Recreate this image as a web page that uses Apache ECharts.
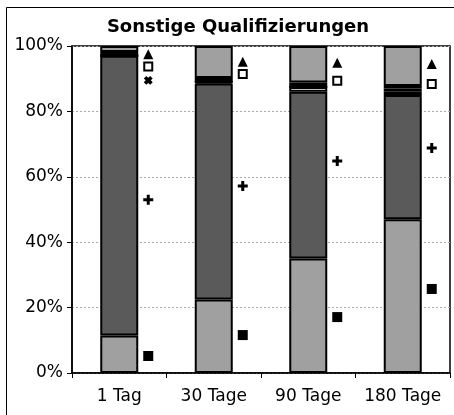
<!DOCTYPE html>
<html>
<head>
<meta charset="utf-8">
<script src="https://cdn.jsdelivr.net/npm/echarts@6/dist/echarts.min.js"></script>
<style>
  html, body { margin: 0; padding: 0; background: #fff; }
  #chart { width: 454px; height: 415px; }
</style>
</head>
<body>
<div id="chart"></div>
<script>
// Kategorien und Anteile (%) je Segment, von unten nach oben
var categories = ["1 Tag", "30 Tage", "90 Tage", "180 Tage"];
var segLight = [11.5, 22.5, 35, 47];
var segDark = [85.5, 66, 51, 38];
var segWhite1 = [0, 0.5, 1.5, 1];
var segWhite2 = [0, 0, 0, 1];
var segBlack = [1.2, 1.2, 1.3, 0.8];
var segTop = [1.8, 9.8, 11.2, 12.2];

// Marker rechts neben den Balken
var mSquare = [5.2, 11.6, 17.1, 25.7];
var mPlus = [53, 57.2, 64.8, 68.8];
var mCross = [89.5, null, null, null];
var mOpen = [93.7, 91.4, 89.4, 88.4];
var mTri = [97.5, 95.2, 94.9, 94.5];

var yTicks = [0, 20, 40, 60, 80, 100];

var plusPath = "path://M3.5,0H6.5V3.5H10V6.5H6.5V10H3.5V6.5H0V3.5H3.5Z";
var crossPath = "path://M3,0H7V3H10V7H7V10H3V7H0V3H3Z";
var font = "DejaVu Sans, Liberation Sans, Arial, sans-serif";

function barSeries(data, color) {
  return {
    type: "bar",
    stack: "total",
    barWidth: 38,
    data: data,
    itemStyle: { color: color, borderColor: "#000", borderWidth: 2 },
    emphasis: { disabled: true },
    z: 2,
  };
}

function markSeries(data, symbol, size, style, rotate) {
  style.opacity = 1;
  return {
    type: "scatter",
    data: data,
    symbol: symbol,
    symbolSize: size,
    symbolRotate: rotate || 0,
    symbolOffset: [29, 0],
    itemStyle: style,
    z: 5,
  };
}

var chart = echarts.init(document.getElementById("chart"));
var option = {
  animation: false,
  backgroundColor: "#fff",
  textStyle: { fontFamily: font },
  title: {
    text: "Sonstige Qualifizierungen",
    left: 233,
    top: 13,
    textAlign: "center",
    textStyle: { fontFamily: font, fontSize: 18, fontWeight: "bold", color: "#000" },
  },
  graphic: [
    {
      type: "rect",
      shape: { x: 6.5, y: 7.5, width: 460, height: 430 },
      style: { fill: null, stroke: "#000", lineWidth: 1 },
      silent: true,
    },
  ],
  grid: {
    left: 72,
    right: 4,
    top: 46,
    bottom: 42,
    show: true,
    borderColor: "#000",
    borderWidth: 1.5,
    backgroundColor: "#fff",
  },
  xAxis: {
    type: "category",
    data: categories,
    axisLine: { lineStyle: { color: "#000", width: 1.5 } },
    axisTick: { show: true, alignWithLabel: false, length: 5, lineStyle: { color: "#000" } },
    axisLabel: { color: "#000", fontSize: 17, margin: 15, interval: 0, fontFamily: font },
  },
  yAxis: {
    type: "value",
    min: yTicks[0],
    max: yTicks[yTicks.length - 1],
    interval: 20,
    axisLine: { show: true, lineStyle: { color: "#000", width: 1.5 } },
    axisTick: { show: true, length: 5, lineStyle: { color: "#000" } },
    axisLabel: { color: "#000", fontSize: 17, margin: 9, formatter: "{value}%", fontFamily: font },
    splitLine: { show: true, lineStyle: { color: "#aaa", type: [2, 2], width: 1 } },
  },
  series: [
    barSeries(segLight, "#a0a0a0"),
    barSeries(segDark, "#5a5a5a"),
    barSeries(segWhite1, "#ffffff"),
    barSeries(segWhite2, "#ffffff"),
    barSeries(segBlack, "#000000"),
    barSeries(segTop, "#a0a0a0"),
    markSeries(mSquare, "rect", 10, { color: "#000" }),
    markSeries(mPlus, plusPath, 10, { color: "#000" }),
    markSeries(mCross, crossPath, 9, { color: "#000" }, 45),
    markSeries(mOpen, "rect", 8, { color: "#fff", borderColor: "#000", borderWidth: 2 }),
    markSeries(mTri, "triangle", 10, { color: "#000" }),
  ],
};
chart.setOption(option);
window.addEventListener("resize", function () {
  chart.resize();
});
</script>
</body>
</html>
